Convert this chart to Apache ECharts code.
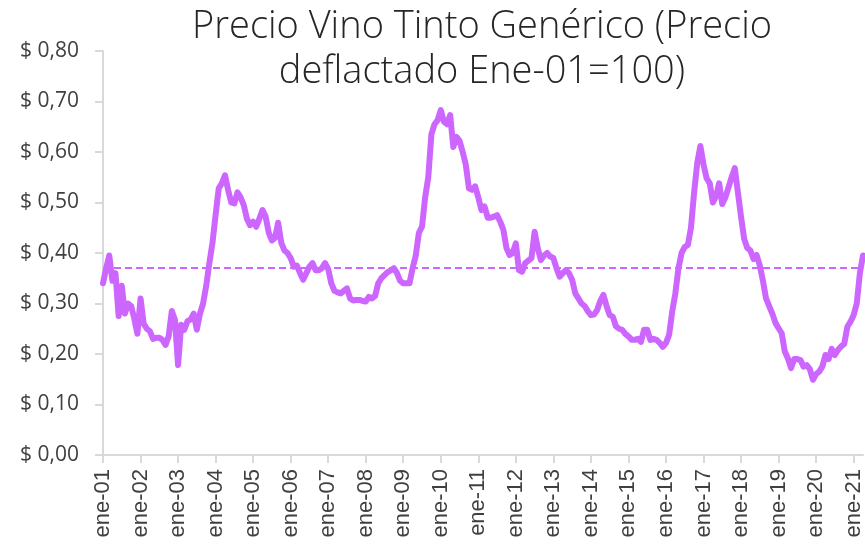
<!DOCTYPE html>
<html>
<head>
<meta charset="utf-8">
<script src="https://cdn.jsdelivr.net/npm/echarts@6/dist/echarts.min.js"></script>
<style>
  html, body { margin: 0; padding: 0; background: #fff; }
  #main { width: 865px; height: 549px; }
</style>
</head>
<body>
<div id="main"></div>
<script>
// monthly series, ene-01 .. abr-21
var firstYear = 2001;
var monthNames = ['ene', 'feb', 'mar', 'abr', 'may', 'jun', 'jul', 'ago', 'sep', 'oct', 'nov', 'dic'];
var yTicks = [0, 0.1, 0.2, 0.3, 0.4, 0.5, 0.6, 0.7, 0.8];
var promedio = 0.367;

var precio = [
  // 2001
  0.34, 0.37, 0.395, 0.345, 0.36, 0.275, 0.335, 0.28, 0.30, 0.295, 0.27, 0.24,
  // 2002
  0.31, 0.26, 0.25, 0.245, 0.23, 0.232, 0.232, 0.228, 0.218, 0.235, 0.285, 0.268,
  // 2003
  0.178, 0.258, 0.248, 0.265, 0.268, 0.28, 0.248, 0.28, 0.30, 0.335, 0.38, 0.42,
  // 2004
  0.475, 0.528, 0.538, 0.554, 0.525, 0.50, 0.498, 0.52, 0.51, 0.495, 0.468, 0.455,
  // 2005
  0.462, 0.452, 0.468, 0.485, 0.472, 0.44, 0.425, 0.43, 0.46, 0.42, 0.405, 0.40,
  // 2006
  0.39, 0.373, 0.375, 0.36, 0.347, 0.36, 0.373, 0.38, 0.366, 0.366, 0.37, 0.38,
  // 2007
  0.368, 0.34, 0.325, 0.322, 0.32, 0.325, 0.33, 0.31, 0.306, 0.307, 0.307, 0.305,
  // 2008
  0.304, 0.313, 0.31, 0.315, 0.34, 0.35, 0.356, 0.362, 0.366, 0.37, 0.36, 0.345,
  // 2009
  0.34, 0.34, 0.34, 0.37, 0.395, 0.44, 0.452, 0.51, 0.55, 0.635, 0.655, 0.663,
  // 2010
  0.683, 0.66, 0.655, 0.673, 0.61, 0.63, 0.622, 0.60, 0.575, 0.528, 0.525, 0.532,
  // 2011
  0.51, 0.485, 0.492, 0.47, 0.47, 0.472, 0.475, 0.462, 0.446, 0.41, 0.396, 0.40,
  // 2012
  0.419, 0.366, 0.363, 0.38, 0.385, 0.39, 0.442, 0.41, 0.386, 0.395, 0.40, 0.393,
  // 2013
  0.39, 0.37, 0.353, 0.36, 0.366, 0.36, 0.347, 0.32, 0.31, 0.30, 0.295, 0.285,
  // 2014
  0.277, 0.278, 0.287, 0.305, 0.317, 0.295, 0.277, 0.274, 0.255, 0.25, 0.248, 0.24,
  // 2015
  0.235, 0.228, 0.228, 0.23, 0.224, 0.248, 0.248, 0.228, 0.23, 0.228, 0.222, 0.214,
  // 2016
  0.222, 0.238, 0.284, 0.32, 0.37, 0.40, 0.412, 0.416, 0.45, 0.52, 0.578, 0.612,
  // 2017
  0.575, 0.548, 0.538, 0.50, 0.512, 0.538, 0.497, 0.51, 0.53, 0.55, 0.568, 0.52,
  // 2018
  0.472, 0.428, 0.41, 0.405, 0.388, 0.396, 0.375, 0.345, 0.31, 0.295, 0.28, 0.262,
  // 2019
  0.251, 0.241, 0.205, 0.191, 0.172, 0.19, 0.19, 0.188, 0.175, 0.178, 0.17, 0.149,
  // 2020
  0.16, 0.165, 0.175, 0.198, 0.19, 0.21, 0.198, 0.208, 0.215, 0.22, 0.254, 0.264,
  // 2021
  0.277, 0.30, 0.36, 0.395
];

var meses = [];
for (var i = 0; i < precio.length; i++) {
  var yy = String((firstYear + Math.floor(i / 12)) % 100).padStart(2, '0');
  meses.push(monthNames[i % 12] + '-' + yy);
}

var myChart = echarts.init(document.getElementById('main'));
myChart.setOption({
  animation: false,
  backgroundColor: '#ffffff',
  title: {
    text: 'Precio Vino Tinto Genérico (Precio\ndeflactado Ene-01=100)',
    left: 477,
    top: 0,
    textAlign: 'center',
    textStyle: {
      fontFamily: 'Open Sans',
      fontSize: 38,
      fontWeight: 300,
      lineHeight: 45,
      color: '#262626'
    }
  },
  grid: { left: 103, right: 2, top: 51, bottom: 94 },
  xAxis: {
    type: 'category',
    data: meses,
    boundaryGap: false,
    axisLine: { lineStyle: { color: '#d9d9d9', width: 2 } },
    axisTick: { interval: 11, length: 8, lineStyle: { color: '#d9d9d9', width: 2 } },
    axisLabel: {
      interval: 11,
      rotate: 90,
      margin: 14,
      fontFamily: 'Liberation Sans',
      fontSize: 22,
      color: '#404040'
    },
    splitLine: { show: false }
  },
  yAxis: {
    type: 'value',
    min: yTicks[0],
    max: yTicks[yTicks.length - 1],
    interval: 0.1,
    axisLine: { show: true, lineStyle: { color: '#d9d9d9', width: 2 } },
    axisTick: { show: true, length: 8, lineStyle: { color: '#d9d9d9', width: 2 } },
    axisLabel: {
      margin: 24,
      fontFamily: 'Open Sans',
      fontSize: 21,
      color: '#404040',
      formatter: function (v) { return '$ ' + v.toFixed(2).replace('.', ','); }
    },
    splitLine: { show: false }
  },
  series: [{
    type: 'line',
    data: precio,
    showSymbol: false,
    lineStyle: { color: '#cc66ff', width: 6, join: 'round', cap: 'round' },
    itemStyle: { color: '#cc66ff' },
    markLine: {
      silent: true,
      symbol: 'none',
      label: { show: false },
      lineStyle: { color: '#cc66ff', type: [7, 4], width: 2 },
      data: [{ yAxis: promedio }]
    }
  }]
});
</script>
</body>
</html>
